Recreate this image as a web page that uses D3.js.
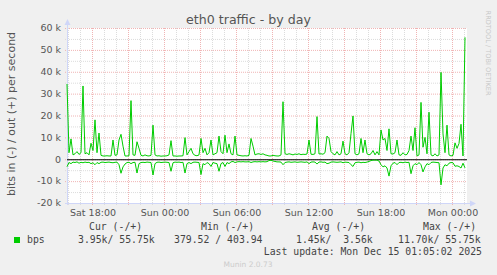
<!DOCTYPE html>
<html><head><meta charset="utf-8">
<script src="https://cdn.jsdelivr.net/npm/d3@7"></script>
<style>
html,body{margin:0;padding:0;background:#F0F0F0;}
svg{display:block;}
text{font-family:"DejaVu Sans",sans-serif;}
.mono{font-family:"DejaVu Sans Mono",monospace;white-space:pre;}
</style></head>
<body>
<svg id="chart" width="497" height="275"></svg>
<script>
// ---- data (values in k bits/s, one sample per 10 minutes from Sat 15:55) ----
const outValues = [
34.4,3,9.3,2,2.5,3.5,2.2,3,33.5,2.5,3,2,7.3,4,18,3,12,1.8,1.5,1.5,
1.6,1.5,1.5,8.8,1.8,2,8.8,11.4,6,1.5,1.5,1.6,26.8,2,1.8,8,5,1.8,1.5,2,
1.6,1.5,1.8,15.6,2,1.5,1.6,1.4,1.5,1.5,1.6,2,8.5,1.5,1.5,1.4,1.5,1.5,1.6,9.9,
2,3.5,5,2.5,1.8,1.6,2,9.5,3,5,2,3,8.8,2,2.5,3,10.6,3.5,2.5,11,
3,7,2.5,2,10.6,2,1.8,1.6,1.5,1.6,1.5,1.8,9.5,6,2,2.4,2.5,2.2,2.5,2.0,
1.8,1.5,1.5,1.8,1.6,1.5,1.5,2,26.3,2.5,2.2,2.5,2.3,2,2.4,2.2,2.5,2.1,2.3,2.2,
2.4,8.8,2.3,2.2,2.5,19.5,2.4,2.5,2.3,3,10.6,9.5,3.5,2.5,2,3.5,2,2.5,8.3,2.5,
2,3,11.7,19.8,2.5,2,2.5,9.5,3,8.8,2.5,2,2.5,4,2,3.5,2,13.4,8.8,9.5,
4,13.9,2.5,2.4,3,8.8,2,1.8,3,2,2.2,4,10.6,4,14.4,1.5,2,26,5.5,10,
2.5,21.5,2,1.5,2.5,1.5,2,39.7,11.6,3,15.6,2,1.5,1.8,7.5,5,7.2,16,1.5,55.75
];
const inValues = [
3.4,1.5,2,1.3,1.5,1.2,1.8,1.4,1.6,1.3,1.5,1.4,2,1.6,2.5,1.5,2,1.4,1.3,1.5,
1.4,1.3,1.5,1.6,1.4,1.3,2.5,6.4,3.5,2.2,1.5,1.4,2,1.5,1.4,6.3,2,1.5,1.4,1.5,
1.3,1.4,1.5,7.2,2,1.4,1.3,1.5,1.4,1.3,1.4,1.5,5.5,1.6,1.3,1.4,1.3,1.5,1.4,6.3,
2,1.5,2,1.4,1.3,1.4,1.5,7,2,2.5,1.5,2,3.3,1.5,1.8,2,5.5,2,1.5,3.3,
1.5,2,1.2,1,1.5,1.2,1.1,1.2,1.1,1.2,1.2,1.1,1.5,1.2,1.1,1.2,1.1,1.2,1.1,1.2,
1.1,0.6,0.5,0.8,1,1.2,1.2,1.3,2.5,1.5,1.3,1.2,1.4,1.3,1.2,1.4,1.3,1.2,1.3,1.4,
1.2,2,1.3,1.2,1.3,2.2,1.3,1.2,1.4,1.3,2,1.8,1.3,1.2,1.3,1.4,1.3,1.2,1.6,1.3,
1.4,1.5,2.5,3.3,1.6,1.4,1.3,1.6,1.4,1.5,1.3,1,0.6,0.4,0.4,0.4,0.8,2.5,3.5,3,
4,7.7,3,1.8,1.5,2.5,1.5,1.4,1.6,1.3,1.5,1.4,6.6,3,2,2.5,1.5,2.5,5.8,3.5,
2,2.5,1.5,1.3,1.4,1.5,1.6,11.7,4,2.5,3,1.8,1.5,1.6,3.2,3,3.3,4,1.8,3.95
];
const yTicks = [-20000,-10000,0,10000,20000,30000,40000,50000,60000];
const legendHeaders = ["Cur (-/+)","Min (-/+)","Avg (-/+)","Max (-/+)"];
const legendValues = ["3.95k/ 55.75k","379.52 / 403.94","1.45k/  3.56k","11.70k/ 55.75k"];
const seriesName = "bps";
const lastUpdate = "Last update: Mon Dec 15 01:05:02 2025";

// ---- layout ----
const svg = d3.select("#chart");
const L = 67, R = 467, T = 28, B = 203;
const t0 = new Date(Date.UTC(2025,11,13,15,55));
const t1 = new Date(Date.UTC(2025,11,15,1,15));
const x = d3.scaleUtc().domain([t0,t1]).range([L,R]);
const y = d3.scaleLinear().domain([-20000,60000]).range([B,T]);
const timeOf = i => new Date(t0.getTime() + i*10*60*1000);

svg.append("rect").attr("x",0).attr("y",0).attr("width",497).attr("height",275).attr("fill","#F0F0F0");
svg.append("rect").attr("x",L).attr("y",T).attr("width",R-L).attr("height",B-T).attr("fill","#FFFFFF");

const minorCol = "#dcdcdc", majorCol = "#f0b4b4";
// horizontal grid
const yMinor = d3.range(-20000,60001,5000);
yMinor.forEach(v=>{
  const major = v % 10000 === 0;
  svg.append("line").attr("x1",L-2).attr("x2",R).attr("y1",y(v)+0.5).attr("y2",y(v)+0.5)
    .attr("stroke",major?majorCol:minorCol).attr("stroke-dasharray","1,1");
});
// vertical grid
const hours = d3.utcHour.every(1).range(t0,t1);
hours.forEach(h=>{
  const major = h.getUTCHours() % 3 === 0;
  const xp = Math.round(x(h))+0.5;
  svg.append("line").attr("x1",xp).attr("x2",xp).attr("y1",T).attr("y2",B+2)
    .attr("stroke",major?majorCol:minorCol).attr("stroke-dasharray","1,1");
});

// axes
const axisCol = "#CFD6F8";
svg.append("line").attr("x1",L+0.5).attr("x2",L+0.5).attr("y1",B+2).attr("y2",T-4).attr("stroke",axisCol);
svg.append("path").attr("d",`M${L-2.5},${T-3} L${L+3.5},${T-3} L${L+0.5},${T-9} Z`).attr("fill",axisCol);
svg.append("line").attr("x1",L-2).attr("x2",R+3).attr("y1",B+0.5).attr("y2",B+0.5).attr("stroke",axisCol);
svg.append("path").attr("d",`M${R+3},${B-2.5} L${R+3},${B+3.5} L${R+9},${B+0.5} Z`).attr("fill",axisCol);

// y labels
yTicks.forEach(v=>{
  svg.append("text").attr("x",61).attr("y",y(v)).attr("dy","0.35em").attr("text-anchor","end")
    .attr("font-size","9.5px").attr("fill","#555").text(v===0?"0":(v/1000)+" k");
});
// x labels
const fmt = d3.utcFormat("%a %H:%M");
d3.utcHour.every(6).range(t0,t1).forEach(h=>{
  svg.append("text").attr("x",x(h)+1).attr("y",216).attr("text-anchor","middle")
    .attr("font-size","9.5px").attr("fill","#555").text(fmt(h));
});

// zero line
svg.append("line").attr("x1",L).attr("x2",R).attr("y1",y(0)+0.5).attr("y2",y(0)+0.5).attr("stroke","#000");

// series
const line = d3.line().x((d,i)=>x(timeOf(i))).y(d=>y(d*1000));
svg.append("path").datum(inValues.map(v=>-v)).attr("d",line).attr("fill","none").attr("stroke","#00CC00").attr("stroke-width",1);
svg.append("path").datum(outValues).attr("d",line).attr("fill","none").attr("stroke","#00CC00").attr("stroke-width",1);

// title
svg.append("text").attr("x",248.5).attr("y",24).attr("text-anchor","middle").attr("font-size","12.6px")
  .attr("fill","#555").text("eth0 traffic - by day");
// y axis title
svg.append("text").attr("transform","translate(15,114) rotate(-90)").attr("text-anchor","middle")
  .attr("font-size","11px").attr("fill","#555").text("bits in (-) / out (+) per second");
// credit
svg.append("text").attr("transform","translate(485.5,53) rotate(90)").attr("text-anchor","middle")
  .attr("font-size","6.6px").attr("fill","#c8c8c8").text("RRDTOOL / TOBI OETIKER");

// legend
const headX = [89,201,312,423];
legendHeaders.forEach((h,i)=>{
  svg.append("text").attr("class","mono").attr("x",headX[i]).attr("y",230).attr("font-size","9.8px").attr("fill","#444").text(h);
});
svg.append("rect").attr("x",14).attr("y",237).attr("width",6).attr("height",6).attr("fill","#00CC00");
svg.append("text").attr("class","mono").attr("x",27).attr("y",243).attr("font-size","9.8px").attr("fill","#444").text(seriesName);
const valX = [78,174,296,398];
legendValues.forEach((v,i)=>{
  svg.append("text").attr("class","mono").attr("x",valX[i]).attr("y",243).attr("font-size","9.8px").attr("fill","#444").text(v);
});
svg.append("text").attr("class","mono").attr("x",482).attr("y",255).attr("text-anchor","end").attr("font-size","9.8px").attr("fill","#444").text(lastUpdate);
svg.append("text").attr("x",248).attr("y",267).attr("text-anchor","middle").attr("font-size","7.5px").attr("fill","#cccccc").text("Munin 2.0.73");
</script>
</body></html>
